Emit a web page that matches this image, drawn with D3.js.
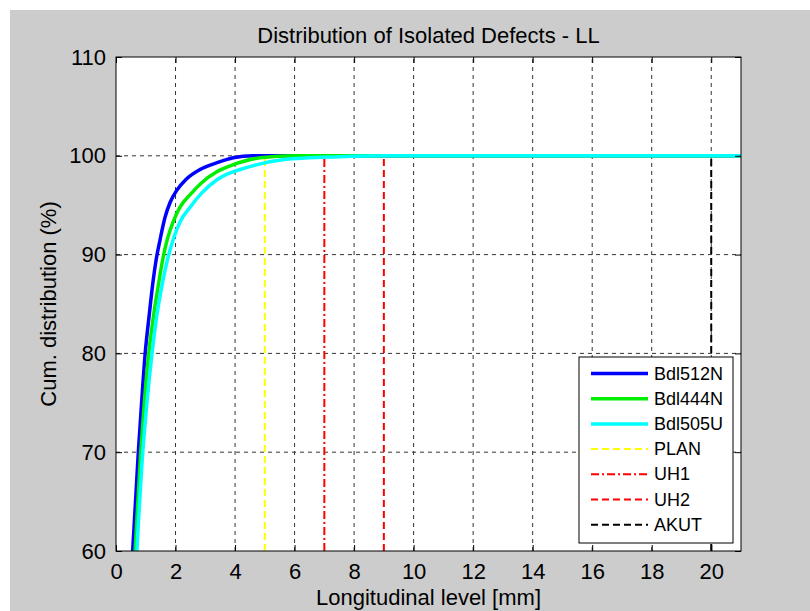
<!DOCTYPE html>
<html>
<head>
<meta charset="utf-8">
<script src="https://cdn.jsdelivr.net/npm/d3@7"></script>
<style>
  body { margin: 0; background: #fff; }
  svg { display: block; font-family: Arial, "Liberation Sans", sans-serif; }
</style>
</head>
<body>
<svg id="chart"></svg>
<script>
// values
const xTickValues = [0, 2, 4, 6, 8, 10, 12, 14, 16, 18, 20];
const yTickValues = [60, 70, 80, 90, 100, 110];

const bdl512nX = [0.56, 0.75, 0.86, 0.98, 1.12, 1.25, 1.35, 1.48, 1.65, 1.82, 2.04, 2.35, 2.82, 3.4, 3.94, 4.6, 21];
const bdl512nY = [60, 70, 75, 80, 84, 87.4, 89.5, 91.5, 93.8, 95.3, 96.5, 97.6, 98.6, 99.3, 99.8, 100, 100];

const bdl444nX = [0.64, 0.83, 0.95, 1.1, 1.27, 1.45, 1.57, 1.72, 1.92, 2.15, 2.5, 2.85, 3.4, 3.94, 4.84, 6, 21];
const bdl444nY = [60, 70, 75, 80, 84, 87.4, 89.5, 91.5, 93.3, 94.8, 96.1, 97.2, 98.4, 99.1, 99.8, 100, 100];

const bdl505uX = [0.7, 0.9, 1.04, 1.21, 1.38, 1.58, 1.73, 1.92, 2.15, 2.49, 2.9, 3.38, 4.5, 5.6, 7.5, 9, 21];
const bdl505uY = [60, 70, 75, 80, 84, 87.4, 89.5, 91.5, 93.3, 94.8, 96.3, 97.55, 98.9, 99.6, 99.9, 100, 100];

// limit lines: x position, drawn from 60 up to 100
const limitNames = ['PLAN', 'UH1', 'UH2', 'AKUT'];
const limitX = [5, 7, 9, 20];
const limitTop = 100;

const width = 810, height = 611;
const margin = { left: 116, right: 69, top: 57, bottom: 60 };

const svg = d3.select('#chart')
    .attr('width', width)
    .attr('height', height);

// grey figure background
svg.append('rect')
    .attr('x', 10).attr('y', 10)
    .attr('width', width - 10).attr('height', height - 10)
    .attr('fill', '#cccccc');

const xScale = d3.scaleLinear()
    .domain([0, 21])
    .range([margin.left, width - margin.right]);

const yScale = d3.scaleLinear()
    .domain([60, 110])
    .range([height - margin.bottom, margin.top]);

const x0 = xScale.range()[0], x1 = xScale.range()[1];
const y0 = yScale.range()[0], y1 = yScale.range()[1];

svg.append('rect')
    .attr('x', x0).attr('y', y1)
    .attr('width', x1 - x0).attr('height', y0 - y1)
    .attr('fill', '#fff');

svg.append('clipPath').attr('id', 'plotClip')
    .append('rect')
    .attr('x', x0).attr('y', y1)
    .attr('width', x1 - x0).attr('height', y0 - y1);

// grid
const grid = svg.append('g');
grid.selectAll('.gx')
    .data(xTickValues.filter(d => d > 0))
    .enter().append('line')
    .attr('x1', d => xScale(d)).attr('x2', d => xScale(d))
    .attr('y1', y0).attr('y2', y1)
    .attr('stroke', '#333').attr('stroke-width', 1)
    .attr('stroke-dasharray', '4,4');
grid.selectAll('.gy')
    .data(yTickValues.filter(d => d > 60 && d < 110))
    .enter().append('line')
    .attr('x1', x0).attr('x2', x1)
    .attr('y1', d => yScale(d)).attr('y2', d => yScale(d))
    .attr('stroke', '#333').attr('stroke-width', 1)
    .attr('stroke-dasharray', '4,4');

const plot = svg.append('g').attr('clip-path', 'url(#plotClip)');

const series = [
    { name: 'Bdl512N', xs: bdl512nX, ys: bdl512nY, color: '#0000ff' },
    { name: 'Bdl444N', xs: bdl444nX, ys: bdl444nY, color: '#00ee00' },
    { name: 'Bdl505U', xs: bdl505uX, ys: bdl505uY, color: '#00ffff' }
];

const limitStyles = [
    { color: '#ffff00', dash: '7,4' },
    { color: '#ff0000', dash: '8,3,2,3' },
    { color: '#ff0000', dash: '7,4' },
    { color: '#000000', dash: '7,4' }
];

const line = d3.line()
    .x(d => xScale(d[0]))
    .y(d => yScale(d[1]))
    .curve(d3.curveMonotoneX);

// limit lines first, curves on top
limitX.forEach((v, i) => {
    plot.append('line')
        .attr('x1', xScale(v)).attr('x2', xScale(v))
        .attr('y1', y0).attr('y2', yScale(limitTop))
        .attr('stroke', limitStyles[i].color)
        .attr('stroke-width', 2)
        .attr('stroke-dasharray', limitStyles[i].dash);
});

series.forEach(s => {
    plot.append('path')
        .datum(s.xs.map((x, i) => [x, s.ys[i]]))
        .attr('d', line)
        .attr('fill', 'none')
        .attr('stroke', s.color)
        .attr('stroke-width', 3.5);
});

// axes, MATLAB style: ticks inside on all four sides
const tickLen = 6;
const xAxis = d3.axisBottom(xScale).tickValues(xTickValues).tickSizeInner(-tickLen).tickSizeOuter(0).tickPadding(12);
const yAxis = d3.axisLeft(yScale).tickValues(yTickValues).tickSizeInner(-tickLen).tickSizeOuter(0).tickPadding(10);
const xAxisTop = d3.axisTop(xScale).tickValues(xTickValues).tickSizeInner(-tickLen).tickSizeOuter(0).tickFormat('');
const yAxisRight = d3.axisRight(yScale).tickValues(yTickValues).tickSizeInner(-tickLen).tickSizeOuter(0).tickFormat('');

function styleAxis(g) {
    g.select('.domain').remove();
    g.selectAll('.tick line').attr('stroke', '#000');
    g.selectAll('.tick text')
        .attr('fill', '#000')
        .style('font-size', '22px')
        .style('font-family', 'Arial, "Liberation Sans", sans-serif');
}

svg.append('g').attr('transform', `translate(0,${y0})`).call(xAxis).call(styleAxis);
svg.append('g').attr('transform', `translate(${x0},0)`).call(yAxis).call(styleAxis);
svg.append('g').attr('transform', `translate(0,${y1})`).call(xAxisTop).call(styleAxis);
svg.append('g').attr('transform', `translate(${x1},0)`).call(yAxisRight).call(styleAxis);

svg.append('rect')
    .attr('x', x0).attr('y', y1)
    .attr('width', x1 - x0).attr('height', y0 - y1)
    .attr('fill', 'none')
    .attr('stroke', '#000').attr('stroke-width', 1);

// titles
svg.append('text')
    .attr('x', (x0 + x1) / 2).attr('y', 43)
    .attr('text-anchor', 'middle')
    .style('font-size', '22px')
    .text('Distribution of Isolated Defects - LL');

svg.append('text')
    .attr('x', (x0 + x1) / 2).attr('y', 605)
    .attr('text-anchor', 'middle')
    .style('font-size', '22px')
    .text('Longitudinal level [mm]');

svg.append('text')
    .attr('transform', `translate(56,${(y0 + y1) / 2}) rotate(-90)`)
    .attr('text-anchor', 'middle')
    .style('font-size', '22px')
    .text('Cum. distribution (%)');

// legend
const legend = svg.append('g');
const legX = 579, legY = 357, legW = 154, legH = 186;
legend.append('rect')
    .attr('x', legX).attr('y', legY)
    .attr('width', legW).attr('height', legH)
    .attr('fill', '#fff').attr('stroke', '#000').attr('stroke-width', 1);

const legendItems = series.map(s => ({ name: s.name, color: s.color, dash: null, w: 3.5 }))
    .concat(limitNames.map((n, i) => ({ name: n, color: limitStyles[i].color, dash: limitStyles[i].dash, w: 2 })));

legendItems.forEach((d, i) => {
    const cy = 373.5 + i * 25.2;
    legend.append('line')
        .attr('x1', 591).attr('x2', 648)
        .attr('y1', cy).attr('y2', cy)
        .attr('stroke', d.color)
        .attr('stroke-width', d.w)
        .attr('stroke-dasharray', d.dash);
    legend.append('text')
        .attr('x', 654).attr('y', cy + 6)
        .style('font-size', '18px')
        .text(d.name);
});
</script>
</body>
</html>
